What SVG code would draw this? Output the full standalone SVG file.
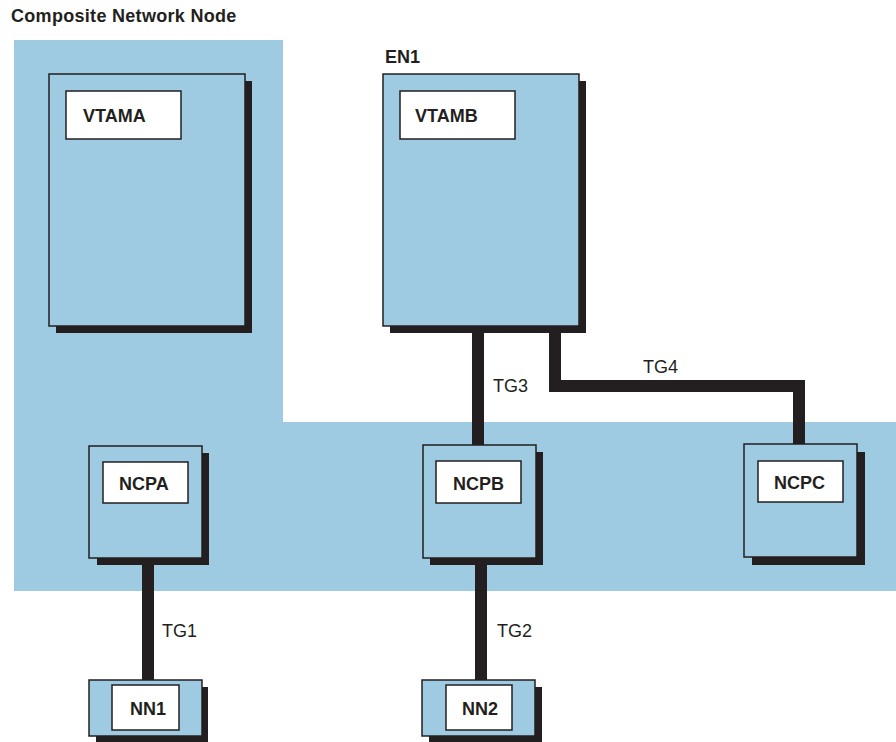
<svg xmlns="http://www.w3.org/2000/svg" width="896" height="742" viewBox="0 0 896 742">
<style>
.bg{fill:#9ECBE2}
.box{fill:#9ECBE2;stroke:#231F20;stroke-width:1.5}
.sh{fill:#231F20}
.lbl{fill:#fff;stroke:#231F20;stroke-width:1.5}
.t{font-family:"Liberation Sans",Arial,sans-serif;font-weight:bold;font-size:18px;fill:#231F20}
.tg{font-family:"Liberation Sans",Arial,sans-serif;font-size:18px;fill:#231F20}
.c{fill:none;stroke:#231F20;stroke-width:12}
</style>
<rect width="896" height="742" fill="#fff"/>
<g id="composite-network-node">
<polygon class="bg" points="14,40 283,40 283,422 896,422 896,591 14,591"/>
<text class="t" x="11" y="22" letter-spacing="0.3">Composite Network Node</text>
</g>
<g id="connectors">
<line class="c" x1="478" y1="333" x2="478" y2="445"/>
<polyline class="c" points="555,333 555,386 799,386 799,445"/>
<line class="c" x1="148" y1="565" x2="148" y2="680"/>
<line class="c" x1="481" y1="565" x2="481" y2="680"/>
<text class="tg" x="493" y="392">TG3</text>
<text class="tg" x="643" y="373">TG4</text>
<text class="tg" x="162" y="637">TG1</text>
<text class="tg" x="497" y="637">TG2</text>
</g>
<g id="vtama">
<rect class="sh" x="56" y="81" width="196" height="252"/>
<rect class="box" x="49" y="74" width="196" height="252"/>
<rect class="lbl" x="66" y="91" width="115" height="48"/>
<text class="t" x="83" y="122">VTAMA</text>
</g>
<g id="en1">
<text class="t" x="385" y="63">EN1</text>
</g>
<g id="vtamb">
<rect class="sh" x="390" y="81" width="196" height="252"/>
<rect class="box" x="383" y="74" width="196" height="252"/>
<rect class="lbl" x="400" y="91" width="115" height="48"/>
<text class="t" x="415" y="122">VTAMB</text>
</g>
<g id="ncpa">
<rect class="sh" x="97" y="453" width="112" height="112"/>
<rect class="box" x="89" y="446" width="113" height="112"/>
<rect class="lbl" x="103" y="462" width="85" height="41"/>
<text class="t" x="119" y="490">NCPA</text>
</g>
<g id="ncpb">
<rect class="sh" x="430" y="452" width="113" height="113"/>
<rect class="box" x="423" y="445" width="113" height="113"/>
<rect class="lbl" x="436" y="461" width="85" height="42"/>
<text class="t" x="453" y="490">NCPB</text>
</g>
<g id="ncpc">
<rect class="sh" x="752" y="452" width="113" height="113"/>
<rect class="box" x="744" y="444" width="113" height="113"/>
<rect class="lbl" x="758" y="461" width="85" height="41"/>
<text class="t" x="774" y="489">NCPC</text>
</g>
<g id="nn1">
<rect class="sh" x="96" y="687" width="112" height="56"/>
<rect class="box" x="89" y="680" width="113" height="56"/>
<rect class="lbl" x="112" y="685" width="67" height="45"/>
<text class="t" x="130" y="715">NN1</text>
</g>
<g id="nn2">
<rect class="sh" x="429" y="687" width="113" height="56"/>
<rect class="box" x="422" y="680" width="113" height="56"/>
<rect class="lbl" x="446" y="685" width="66" height="45"/>
<text class="t" x="462" y="715">NN2</text>
</g>
</svg>
